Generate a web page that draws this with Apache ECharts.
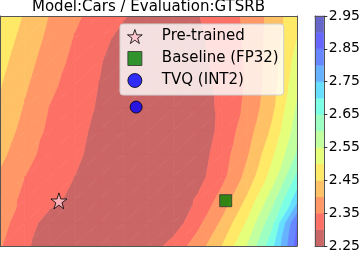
<!DOCTYPE html>
<html><head><meta charset="utf-8">
<script src="https://cdn.jsdelivr.net/npm/echarts@6/dist/echarts.min.js"></script>
<style>html,body{margin:0;padding:0;background:#fff}#c{width:363px;height:255px}</style>
</head><body><div id="c"></div>
<script>
const chartTitle = 'Model:Cars / Evaluation:GTSRB';
const gridX = [0,1,2,3,4,5,6,7,8,9,10,11,12];
const gridY = [0,1,2,3,4,5,6,7,8,9,10];
const lossRows = [
  [2.492, 2.445, 2.398, 2.359, 2.330, 2.304, 2.280, 2.280, 2.298, 2.326, 2.360, 2.419, 2.485],
  [2.478, 2.432, 2.387, 2.347, 2.315, 2.284, 2.275, 2.275, 2.291, 2.323, 2.358, 2.423, 2.500],
  [2.465, 2.419, 2.375, 2.337, 2.304, 2.275, 2.270, 2.270, 2.285, 2.319, 2.356, 2.424, 2.520],
  [2.453, 2.407, 2.362, 2.328, 2.299, 2.275, 2.265, 2.265, 2.277, 2.315, 2.356, 2.428, 2.536],
  [2.442, 2.395, 2.348, 2.321, 2.295, 2.270, 2.262, 2.262, 2.270, 2.314, 2.362, 2.437, 2.556],
  [2.432, 2.381, 2.340, 2.314, 2.289, 2.268, 2.258, 2.258, 2.263, 2.317, 2.378, 2.459, 2.575],
  [2.414, 2.365, 2.333, 2.309, 2.285, 2.265, 2.256, 2.258, 2.274, 2.328, 2.395, 2.489, 2.605],
  [2.391, 2.350, 2.325, 2.300, 2.275, 2.262, 2.257, 2.262, 2.282, 2.338, 2.417, 2.521, 2.661],
  [2.369, 2.341, 2.314, 2.287, 2.270, 2.262, 2.262, 2.268, 2.307, 2.371, 2.460, 2.579, 2.730],
  [2.367, 2.323, 2.280, 2.265, 2.260, 2.260, 2.262, 2.272, 2.337, 2.411, 2.508, 2.635, 2.850],
  [2.354, 2.308, 2.275, 2.262, 2.258, 2.262, 2.273, 2.319, 2.374, 2.453, 2.553, 2.683, 2.870]
];
const levels = [2.25,2.30,2.35,2.40,2.45,2.50,2.55,2.60,2.65,2.70,2.75,2.80,2.85,2.90,2.95];
const bandColors = ['rgb(203,102,102)','rgb(253,112,102)','rgb(255,152,102)','rgb(255,193,102)',
  'rgb(255,233,102)','rgb(229,255,123)','rgb(194,255,158)','rgb(158,255,194)','rgb(123,255,229)',
  'rgb(102,222,255)','rgb(102,178,255)','rgb(102,135,255)','rgb(102,102,253)','rgb(102,102,203)'];
const colorbarTicks = [2.25,2.35,2.45,2.55,2.65,2.75,2.85,2.95];
const markerNames = ['Pre-trained','Baseline (FP32)','TVQ (INT2)'];
const pretrainedPoint = [2.38, 8.04];
const baselinePoint = [9.12, 8.03];
const tvqPoint = [5.50, 3.96];

const cells = [];
for (let j = 0; j < gridY.length - 1; j++) for (let i = 0; i < gridX.length - 1; i++) cells.push([i, j]);
const bands = levels.slice(0, -1).map((v, k) => [k]);

function clip(poly, lev, keepAbove) {
  const out = [];
  for (let k = 0; k < poly.length; k++) {
    const p = poly[k], q = poly[(k + 1) % poly.length];
    const pin = keepAbove ? p[2] >= lev : p[2] <= lev;
    const qin = keepAbove ? q[2] >= lev : q[2] <= lev;
    if (pin) out.push(p);
    if (pin !== qin) {
      const t = (lev - p[2]) / (q[2] - p[2]);
      out.push([p[0] + t * (q[0] - p[0]), p[1] + t * (q[1] - p[1]), lev]);
    }
  }
  return out;
}

const starPath = 'path://M50,0 L61.8,36.2 L100,36.2 L69.1,58.8 L80.9,95.1 L50,72.7 L19.1,95.1 L30.9,58.8 L0,36.2 L38.2,36.2 Z';
const squarePath = 'path://M0,0 L10,0 L10,10 L0,10 Z';
const FONT = 'DejaVu Sans';
const hiddenAxis = {axisTick:{show:false}, axisLabel:{show:false}, splitLine:{show:false}};
const spine = {show:true, onZero:false, lineStyle:{color:'#555', width:1}};
const starStyle = {color: '#ffc0cb', borderColor: '#000', borderWidth: 1};
const squareStyle = {color: '#008000', borderColor: '#333', borderWidth: 1};
const circleStyle = {color: '#0000ff', borderColor: '#000', borderWidth: 1};

const chart = echarts.init(document.getElementById('c'), null, {renderer:'canvas'});
chart.setOption({
  animation: false,
  title: {text: chartTitle, left: 32, top: 0, padding: 0,
    textStyle: {fontFamily: FONT, fontSize: 15, fontWeight: 'normal', color: '#000'}},
  legend: {
    orient: 'vertical', left: 120, top: 24, padding: [4, 5, 6, 7],
    itemWidth: 26, itemHeight: 14, itemGap: 5,
    backgroundColor: 'rgba(255,255,255,0.8)', borderColor: '#d0d0d0', borderWidth: 1, borderRadius: 3,
    data: [
      {name: markerNames[0], icon: starPath, itemStyle: starStyle},
      {name: markerNames[1], icon: squarePath, itemStyle: squareStyle},
      {name: markerNames[2], icon: 'circle', itemStyle: circleStyle}
    ],
    formatter: n => '{g|}' + n,
    textStyle: {fontFamily: FONT, fontSize: 15, color: '#000', lineHeight: 17, rich: {g: {width: 9}}}
  },
  grid: [
    {left: 0, top: 16, width: 297, height: 230},
    {left: 315, top: 16, width: 14, height: 230}
  ],
  xAxis: [
    Object.assign({gridIndex: 0, type: 'value', min: 0, max: 12, position: 'bottom', axisLine: spine, z: 10}, hiddenAxis),
    Object.assign({gridIndex: 0, type: 'value', min: 0, max: 12, position: 'top', axisLine: spine, z: 10}, hiddenAxis),
    Object.assign({gridIndex: 1, type: 'value', min: 0, max: 1, position: 'bottom', axisLine: spine, z: 10}, hiddenAxis),
    Object.assign({gridIndex: 1, type: 'value', min: 0, max: 1, position: 'top', axisLine: spine, z: 10}, hiddenAxis)
  ],
  yAxis: [
    Object.assign({gridIndex: 0, type: 'value', min: 0, max: 10, inverse: true, position: 'left', axisLine: spine, z: 10}, hiddenAxis),
    Object.assign({gridIndex: 0, type: 'value', min: 0, max: 10, inverse: true, position: 'right', axisLine: spine, z: 10}, hiddenAxis),
    {gridIndex: 1, type: 'value', min: 2.25, max: 2.95, interval: 0.05, position: 'right', axisLine: spine, z: 10,
      splitLine: {show: false},
      axisTick: {show: true, length: 3.5, customValues: colorbarTicks, lineStyle: {color: '#333'}},
      axisLabel: {show: true, customValues: colorbarTicks, margin: 5, formatter: v => v.toFixed(2),
        fontFamily: FONT, fontSize: 14, color: '#000'}},
    Object.assign({gridIndex: 1, type: 'value', min: 2.25, max: 2.95, position: 'left', axisLine: spine, z: 10}, hiddenAxis)
  ],
  series: [
    {
      type: 'custom', name: 'loss', xAxisIndex: 0, yAxisIndex: 0, clip: true, z: 1,
      data: cells, encode: {x: 0, y: 1},
      renderItem: function (params, api) {
        const i = api.value(0), j = api.value(1);
        const P = (a, b) => [gridX[a], gridY[b], lossRows[b][a]];
        const tris = [[P(i, j), P(i + 1, j), P(i, j + 1)], [P(i + 1, j), P(i + 1, j + 1), P(i, j + 1)]];
        const children = [];
        tris.forEach(tri => {
          for (let k = 0; k < bandColors.length; k++) {
            let poly = tri;
            if (k > 0) poly = clip(poly, levels[k], true);
            if (poly.length < 3) continue;
            if (k < bandColors.length - 1) poly = clip(poly, levels[k + 1], false);
            if (poly.length < 3) continue;
            children.push({type: 'polygon', shape: {points: poly.map(p => api.coord([p[0], p[1]]))},
              style: {fill: bandColors[k], stroke: bandColors[k], lineWidth: 0.7}});
          }
        });
        return {type: 'group', children: children};
      }
    },
    {
      type: 'custom', name: 'colorbar', xAxisIndex: 2, yAxisIndex: 2, z: 1,
      data: bands, encode: {y: 0},
      renderItem: function (params, api) {
        const k = api.value(0);
        const a = api.coord([0, levels[k + 1]]), b = api.coord([1, levels[k]]);
        return {type: 'rect', shape: {x: a[0], y: a[1], width: b[0] - a[0], height: b[1] - a[1]},
          style: {fill: bandColors[k], stroke: bandColors[k], lineWidth: 0.5}};
      }
    },
    {type: 'scatter', name: markerNames[0], xAxisIndex: 0, yAxisIndex: 0, z: 5, symbol: starPath, symbolSize: 16,
      itemStyle: starStyle, data: [pretrainedPoint]},
    {type: 'scatter', name: markerNames[1], xAxisIndex: 0, yAxisIndex: 0, z: 5, symbol: 'rect', symbolSize: 12,
      itemStyle: squareStyle, data: [baselinePoint]},
    {type: 'scatter', name: markerNames[2], xAxisIndex: 0, yAxisIndex: 0, z: 5, symbol: 'circle', symbolSize: 12,
      itemStyle: circleStyle, data: [tvqPoint]}
  ]
});
</script></body></html>
